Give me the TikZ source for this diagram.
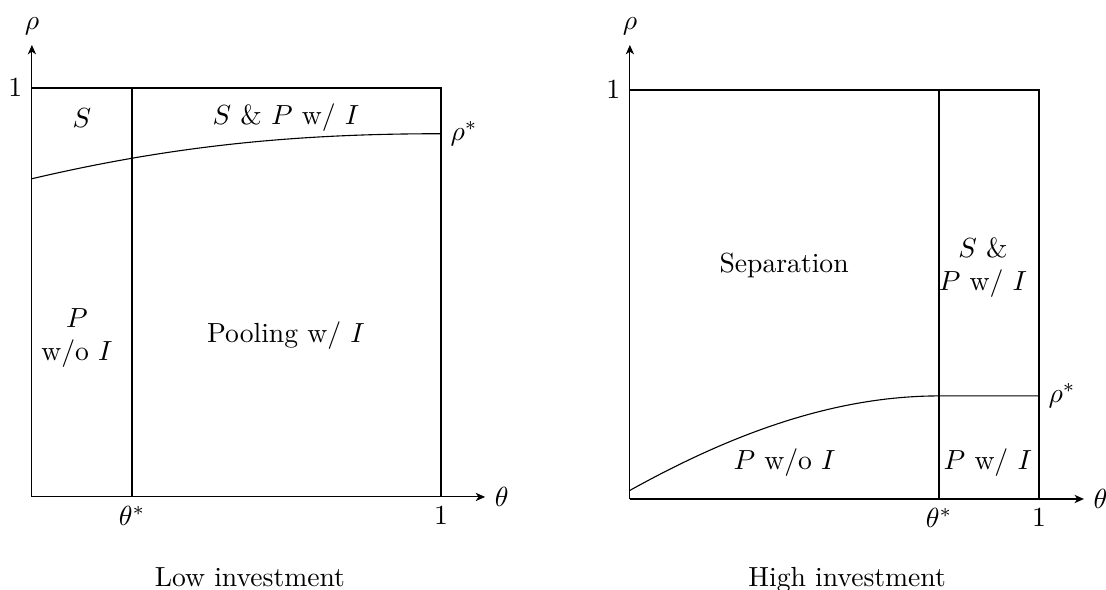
\documentclass[tikz,border=0pt]{standalone}
\usetikzlibrary{arrows.meta}
\tikzset{
  axis/.style={-{Stealth[length=3.4pt,width=3pt,inset=1pt]}},
  bound/.style={thick},
  part/.style={semithick},
}
\begin{document}
\begin{tikzpicture}[x=5.2cm,y=5.2cm]
\useasboundingbox (-0.078,-0.227) rectangle (2.626,1.215);
% low investment
\draw[axis] (0,0) -- (1.108,0) node[right] (thL) {$\theta$};
\draw[axis] (0,0) -- (0,1.105) node[above] (rhL) {$\rho$};
\draw[bound] (0,1) -- (1,1) -- (1,0) (0.245,0) -- (0.245,1);
\draw (0,0.778) .. controls (0.35,0.86) and (0.65,0.888) .. (1,0.888) node[right] (rsL) {$\rho^*$};
\node[left] (oneL) at (0,1) {$1$};
\node[below] (tsL) at (0.245,0) {$\theta^*$};
\node[below] (onexL) at (1,0) {$1$};
\node (sL) at (0.122,0.927) {$S$};
\node (spL) at (0.621,0.927) {$S$ \& $P$ w/ $I$};
\node[align=center] (pwoL) at (0.110,0.389) {$P$\\w/o $I$};
\node (poolL) at (0.621,0.394) {Pooling w/ $I$};
\node (capL) at (0.533,-0.196) {Low investment};
% high investment
\begin{scope}[shift={(1.462,-0.005)}]
\draw[axis] (0,0) -- (1.11,0) node[right] (thH) {$\theta$};
\draw[axis] (0,0) -- (0,1.11) node[above] (rhH) {$\rho$};
\draw[bound] (0,1) -- (0.756,1);
\draw[part] (0.756,1) -- (1,1) -- (1,0) (0.756,0) -- (0.756,1);
\draw (0,0.021) .. controls (0.25,0.16) and (0.5,0.252) .. (0.756,0.252) -- (1,0.252) node[right] (rsH) {$\rho^*$};
\node[left] (oneH) at (0,1) {$1$};
\node[below] (tsH) at (0.756,0) {$\theta^*$};
\node[below] (onexH) at (1,0) {$1$};
\node (sepH) at (0.377,0.572) {Separation};
\node[align=center] (spH) at (0.863,0.565) {$S$ \&\\$P$ w/ $I$};
\node (pwoH) at (0.378,0.088) {$P$ w/o $I$};
\node (pwH) at (0.875,0.088) {$P$ w/ $I$};
\node (capH) at (0.531,-0.198) {High investment};
\end{scope}
\end{tikzpicture}
\end{document}
